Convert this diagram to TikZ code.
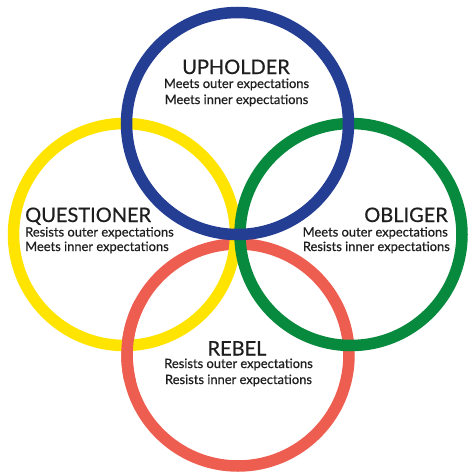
\documentclass[tikz,border=0pt]{standalone}
\usepackage{fontspec}
\setmainfont{Lato}
\newfontfamily\bodyfont[FakeBold=0.5]{Lato}
\definecolor{cblue}{RGB}{36,62,148}
\definecolor{cyellow}{RGB}{255,228,0}
\definecolor{cgreen}{RGB}{8,138,62}
\definecolor{cred}{RGB}{238,94,80}
\definecolor{ctext}{RGB}{30,30,30}
\begin{document}
\begin{tikzpicture}[x=1pt,y=-1pt,
  ring/.style={line width=11.5pt},
  ttl/.style={text=ctext,inner sep=0pt,font=\bodyfont\fontsize{20}{24}\selectfont},
  bdy/.style={text=ctext,inner sep=0pt,font=\bodyfont\fontsize{12.9}{16}\selectfont}]
\useasboundingbox[fill=white] (0,0) rectangle (474,474);
% rings
\draw[ring,cred] (238,355) circle[radius=111];
\draw[ring,cyellow] (124.5,234.5) circle[radius=111];
\draw[ring,cgreen] (351,234.5) circle[radius=111];
\draw[ring,cblue] (237.5,123.5) circle[radius=111];
\begin{scope}
\clip (95,300) rectangle (170,380);
\draw[ring,cred] (238,355) circle[radius=111];
\end{scope}
% Upholder
\node[ttl,anchor=base] (uph) at (236,74) {UPHOLDER};
\node[bdy,anchor=base] (uph1) at (236.5,88) {Meets outer expectations};
\node[bdy,anchor=base] (uph2) at (236.5,104) {Meets inner expectations};
% Questioner
\node[ttl,anchor=base west] (que) at (25,222) {QUESTIONER};
\node[bdy,anchor=base west] (que1) at (25,236.5) {Resists outer expectations};
\node[bdy,anchor=base west] (que2) at (25,251) {Meets inner expectations};
% Obliger
\node[ttl,anchor=base east] (obl) at (448,222) {OBLIGER};
\node[bdy,anchor=base east] (obl1) at (448,236.5) {Meets outer expectations};
\node[bdy,anchor=base east] (obl2) at (450,251) {Resists inner expectations};
% Rebel
\node[ttl,anchor=base] (reb) at (237,355.5) {REBEL};
\node[bdy,anchor=base] (reb1) at (238.5,368) {Resists outer expectations};
\node[bdy,anchor=base] (reb2) at (238.5,384) {Resists inner expectations};
\end{tikzpicture}
\end{document}
